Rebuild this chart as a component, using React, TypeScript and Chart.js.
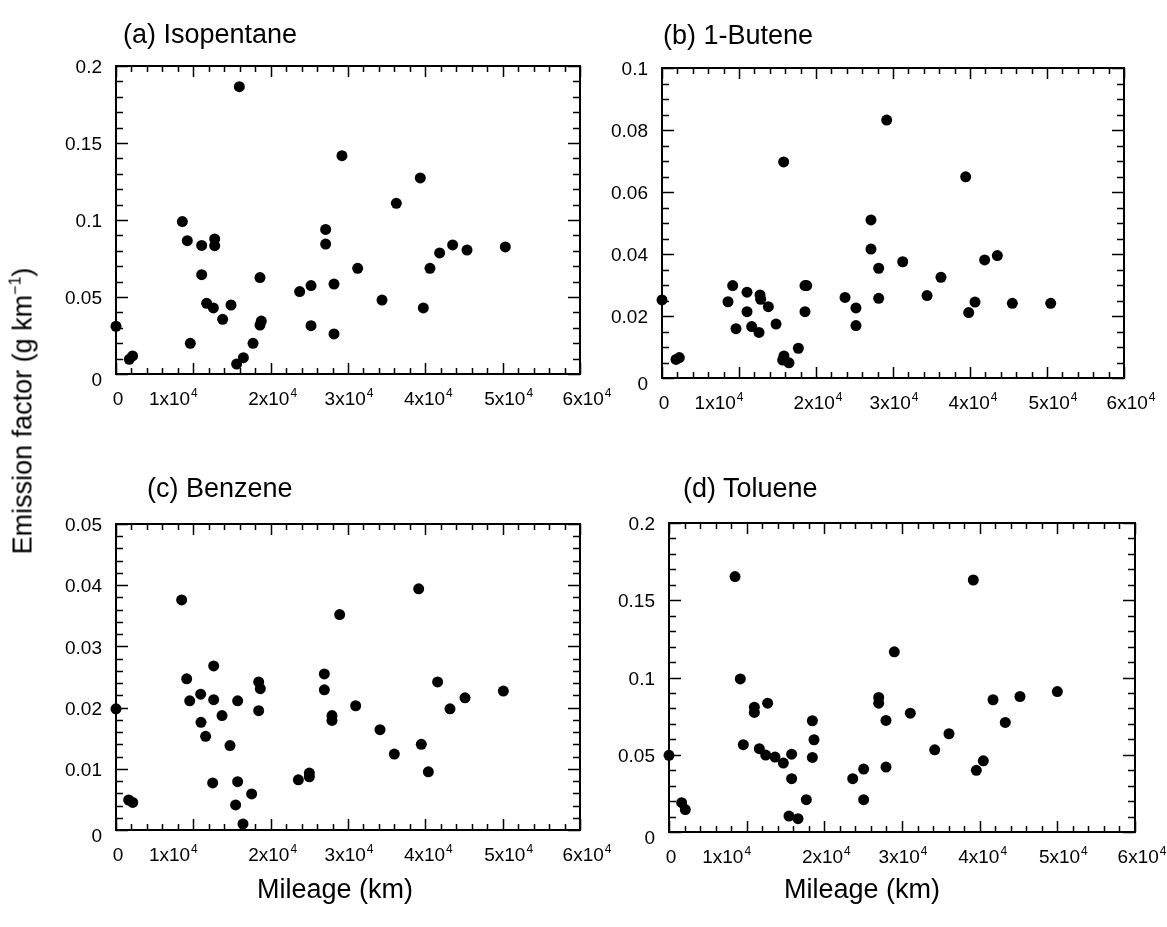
import React, { useEffect, useRef } from "react";
import { Chart, registerables } from "chart.js";
Chart.register(...registerables);

// ---------------- data ----------------
const isoMileage = [0, 1720, 2150, 8580, 9220, 9610, 11080, 11080, 12760, 12760, 11720, 12590, 13790, 14870, 15950, 15600, 16470, 17720, 18620, 18620, 18790, 23750, 25220, 25220, 27110, 27110, 28190, 28190, 29220, 31250, 34400, 36250, 39350, 39740, 40600, 41850, 43530, 45390, 50340];
const isoEF = [0.031, 0.0095, 0.0117, 0.099, 0.0866, 0.0199, 0.0835, 0.0645, 0.0877, 0.0833, 0.0459, 0.0429, 0.0355, 0.0448, 0.1866, 0.0065, 0.0106, 0.0199, 0.0626, 0.0318, 0.0344, 0.0535, 0.0574, 0.0314, 0.0939, 0.0844, 0.0584, 0.026, 0.1418, 0.0686, 0.048, 0.1108, 0.1273, 0.0429, 0.0686, 0.0786, 0.0838, 0.0805, 0.0825];

const buteneMileage = [0, 1820, 2250, 8570, 9180, 9610, 11040, 11040, 11650, 12600, 12730, 12810, 13810, 14810, 15800, 15670, 15840, 16490, 17710, 18570, 18790, 18570, 23770, 25190, 25190, 27140, 27140, 28140, 28140, 29180, 31260, 34420, 36230, 39440, 39830, 40650, 41900, 43550, 45500, 50480];
const buteneEF = [0.0252, 0.006, 0.0066, 0.0246, 0.0298, 0.0159, 0.0277, 0.0214, 0.0166, 0.0147, 0.0268, 0.0254, 0.023, 0.0174, 0.0697, 0.0058, 0.0071, 0.0049, 0.0096, 0.0298, 0.0298, 0.0214, 0.026, 0.0226, 0.0169, 0.051, 0.0416, 0.0354, 0.0257, 0.0832, 0.0375, 0.0266, 0.0325, 0.0649, 0.0211, 0.0245, 0.0381, 0.0395, 0.0241, 0.0241];

const benzeneMileage = [0, 1640, 2160, 8490, 9140, 9530, 10950, 12630, 12630, 10990, 11590, 13710, 12500, 14740, 15730, 15730, 15470, 16420, 17540, 18450, 18660, 18450, 23580, 25000, 25000, 26940, 26940, 27930, 27930, 28920, 30990, 34140, 35990, 39140, 39480, 40390, 41590, 43190, 45130, 50090];
const benzeneEF = [0.0198, 0.0049, 0.0045, 0.0376, 0.0247, 0.0211, 0.0222, 0.0268, 0.0213, 0.0176, 0.0153, 0.0187, 0.0077, 0.0138, 0.0211, 0.0079, 0.0041, 0.001, 0.0059, 0.0242, 0.0231, 0.0195, 0.0082, 0.0093, 0.0087, 0.0255, 0.0229, 0.0187, 0.0179, 0.0352, 0.0203, 0.0164, 0.0124, 0.0394, 0.014, 0.0095, 0.0242, 0.0198, 0.0216, 0.0227];

const tolueneMileage = [0, 1630, 2100, 8500, 9180, 9570, 10990, 10990, 12700, 11630, 12450, 13650, 14720, 15790, 15790, 17680, 18460, 18670, 18460, 15450, 16610, 23650, 25060, 25060, 27000, 27000, 27940, 27940, 29010, 31070, 34210, 36050, 39180, 39570, 40470, 41720, 43300, 45190, 50000];
const tolueneEF = [0.0496, 0.019, 0.0145, 0.1653, 0.0991, 0.0565, 0.0808, 0.0774, 0.0834, 0.0539, 0.0498, 0.0485, 0.0446, 0.0504, 0.0345, 0.0209, 0.072, 0.0597, 0.0483, 0.0103, 0.0086, 0.0345, 0.0407, 0.0209, 0.0871, 0.0834, 0.0722, 0.042, 0.1166, 0.0769, 0.0532, 0.0636, 0.1631, 0.0399, 0.0461, 0.0856, 0.0709, 0.0877, 0.0909];

const xTicks = [0, 10000, 20000, 30000, 40000, 50000, 60000];
const yTicksIso = [0, 0.05, 0.1, 0.15, 0.2];
const yTicksButene = [0, 0.02, 0.04, 0.06, 0.08, 0.1];
const yTicksBenzene = [0, 0.01, 0.02, 0.03, 0.04, 0.05];
const yTicksToluene = [0, 0.05, 0.1, 0.15, 0.2];

const panelTitles = ["(a) Isopentane", "(b) 1-Butene", "(c) Benzene", "(d) Toluene"];
const xAxisTitle = "Mileage (km)";

// ---------------- layout / style ----------------
const W = 1167;
const H = 927;
const FONT = '"Liberation Sans", Arial, Helvetica, sans-serif';
const X_MINOR = 2000;
const xLabelShift = [2, -20, 2, 1, 3, 6, 7];

type Panel = {
  title: string;
  mileage: number[];
  ef: number[];
  yTicks: number[];
  yMinor: number;
  area: { l: number; t: number; r: number; b: number };
  titlePos: { x: number; y: number };
};

const panels: Panel[] = [
  { title: panelTitles[0], mileage: isoMileage, ef: isoEF, yTicks: yTicksIso, yMinor: 0.01, area: { l: 116, t: 66, r: 580, b: 374 }, titlePos: { x: 123, y: 21 } },
  { title: panelTitles[1], mileage: buteneMileage, ef: buteneEF, yTicks: yTicksButene, yMinor: 0.005, area: { l: 662, t: 68, r: 1124, b: 378 }, titlePos: { x: 663, y: 22 } },
  { title: panelTitles[2], mileage: benzeneMileage, ef: benzeneEF, yTicks: yTicksBenzene, yMinor: 0.002, area: { l: 116, t: 524, r: 580, b: 830 }, titlePos: { x: 147, y: 475 } },
  { title: panelTitles[3], mileage: tolueneMileage, ef: tolueneEF, yTicks: yTicksToluene, yMinor: 0.01, area: { l: 669, t: 523, r: 1135, b: 832 }, titlePos: { x: 683, y: 475 } },
];

function fmtY(v: number): string {
  return parseFloat(v.toFixed(4)).toString();
}

function makeAxesPlugin(p: Panel) {
  return {
    id: "inwardAxes",
    beforeDatasetsDraw(chart: any) {
      const { ctx, chartArea } = chart;
      const { left, right, top, bottom } = chartArea;
      const xs = chart.scales.x;
      const ys = chart.scales.y;
      ctx.save();
      ctx.strokeStyle = "#000";
      ctx.fillStyle = "#000";
      ctx.lineWidth = 2;
      ctx.strokeRect(left, top, right - left, bottom - top);
      ctx.lineWidth = 1.5;

      // x ticks (top & bottom, inward)
      const xMax = xTicks[xTicks.length - 1];
      const xMajor = xTicks[1] - xTicks[0];
      const nx = Math.round(xMax / X_MINOR);
      const xRatio = Math.round(xMajor / X_MINOR);
      for (let i = 0; i <= nx; i++) {
        const px = Math.round(xs.getPixelForValue(i * X_MINOR)) + 0.5;
        const len = i % xRatio === 0 ? 11 : 6;
        ctx.beginPath();
        ctx.moveTo(px, bottom);
        ctx.lineTo(px, bottom - len);
        ctx.moveTo(px, top);
        ctx.lineTo(px, top + len);
        ctx.stroke();
      }
      // y ticks (left & right, inward)
      const yMax = p.yTicks[p.yTicks.length - 1];
      const yMajor = p.yTicks[1] - p.yTicks[0];
      const ny = Math.round(yMax / p.yMinor);
      const yRatio = Math.round(yMajor / p.yMinor);
      for (let i = 0; i <= ny; i++) {
        const py = Math.round(ys.getPixelForValue(i * p.yMinor)) + 0.5;
        const len = i % yRatio === 0 ? 12 : 7;
        ctx.beginPath();
        ctx.moveTo(left, py);
        ctx.lineTo(left + len, py);
        ctx.moveTo(right, py);
        ctx.lineTo(right - len, py);
        ctx.stroke();
      }

      // y labels
      ctx.font = `19px ${FONT}`;
      ctx.textAlign = "right";
      ctx.textBaseline = "middle";
      p.yTicks.forEach((v) => {
        const py = ys.getPixelForValue(v) + (v === 0 ? 7 : 2);
        ctx.fillText(fmtY(v), left - 14, py);
      });

      // x labels with superscript exponent
      ctx.textBaseline = "alphabetic";
      const base = bottom + 31;
      xTicks.forEach((v, i) => {
        const cx = xs.getPixelForValue(v) + (xLabelShift[i] || 0);
        if (v === 0) {
          ctx.font = `19px ${FONT}`;
          ctx.textAlign = "center";
          ctx.fillText("0", cx, base);
          return;
        }
        const mant = `${Math.round(v / 10000)}x10`;
        const exp = "4";
        ctx.font = `19px ${FONT}`;
        const wm = ctx.measureText(mant).width;
        ctx.font = `12px ${FONT}`;
        const we = ctx.measureText(exp).width;
        const x0 = cx - (wm + we + 1) / 2;
        ctx.textAlign = "left";
        ctx.font = `19px ${FONT}`;
        ctx.fillText(mant, x0, base);
        ctx.font = `12px ${FONT}`;
        ctx.fillText(exp, x0 + wm + 1, base - 8);
      });
      ctx.restore();
    },
  };
}

function PanelChart({ p }: { p: Panel }) {
  const ref = useRef<HTMLCanvasElement | null>(null);
  useEffect(() => {
    if (!ref.current) return;
    const yMax = p.yTicks[p.yTicks.length - 1];
    const chart = new Chart(ref.current, {
      type: "scatter",
      data: {
        datasets: [
          {
            data: p.mileage.map((x, i) => ({ x, y: p.ef[i] })),
            pointRadius: 5.5,
            pointBackgroundColor: "#000",
            pointBorderColor: "#000",
            pointBorderWidth: 0,
            clip: false as any,
          } as any,
        ],
      },
      options: {
        animation: false,
        responsive: false,
        devicePixelRatio: 1,
        events: [],
        layout: {
          padding: { left: p.area.l, top: p.area.t, right: W - p.area.r, bottom: H - p.area.b },
        },
        plugins: { legend: { display: false }, tooltip: { enabled: false }, title: { display: false } },
        scales: {
          x: { type: "linear", display: false, min: xTicks[0], max: xTicks[xTicks.length - 1] },
          y: { type: "linear", display: false, min: 0, max: yMax },
        },
      },
      plugins: [makeAxesPlugin(p)],
    });
    return () => chart.destroy();
  }, [p]);
  return (
    <canvas
      ref={ref}
      width={W}
      height={H}
      style={{ position: "absolute", left: 0, top: 0, width: W, height: H, pointerEvents: "none" }}
    />
  );
}

const textBase: React.CSSProperties = {
  position: "absolute",
  fontFamily: FONT,
  color: "#000",
  whiteSpace: "nowrap",
  lineHeight: 1,
};

export default function App() {
  return (
    <div style={{ position: "fixed", left: 0, top: 0, width: W, height: H, background: "#fff", overflow: "hidden" }}>
      {panels.map((p, i) => (
        <PanelChart key={i} p={p} />
      ))}
      {panels.map((p, i) => (
        <div key={"t" + i} style={{ ...textBase, left: p.titlePos.x, top: p.titlePos.y, fontSize: 27 }}>
          {p.title}
        </div>
      ))}
      <div
        style={{
          ...textBase,
          left: 23,
          top: 411,
          fontSize: 27,
          transform: "translate(-50%, -50%) rotate(-90deg)",
        }}
      >
        Emission factor (g km
        <span style={{ fontSize: 16, position: "relative", top: -11 }}>−1</span>)
      </div>
      <div style={{ ...textBase, left: 335, top: 876, fontSize: 27, transform: "translateX(-50%)" }}>{xAxisTitle}</div>
      <div style={{ ...textBase, left: 862, top: 876, fontSize: 27, transform: "translateX(-50%)" }}>{xAxisTitle}</div>
    </div>
  );
}
